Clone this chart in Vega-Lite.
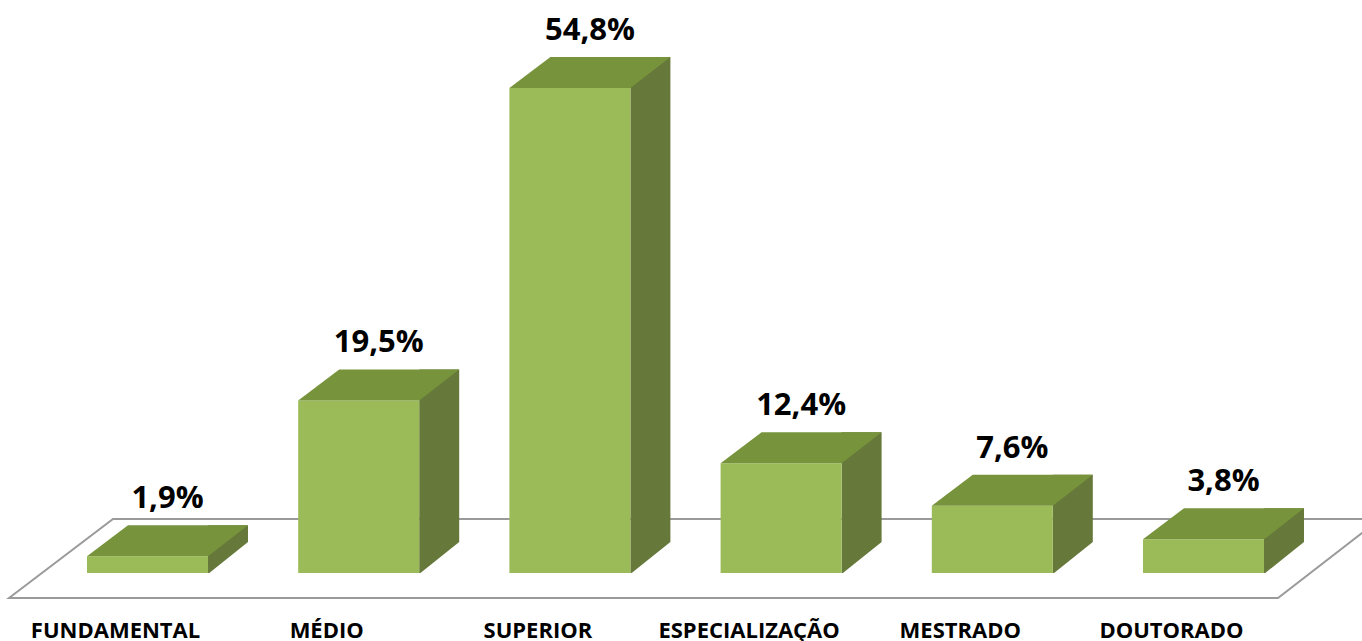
{
  "$schema": "https://vega.github.io/schema/vega-lite/v6.json",
  "width": 1362,
  "height": 610,
  "autosize": {"type": "none"},
  "padding": {"left": 0, "top": 0, "right": 0, "bottom": 31},
  "background": "white",
  "config": {
    "view": {"stroke": null},
    "locale": {"number": {"decimal": ",", "thousands": ".", "grouping": [3], "currency": ["R$ ", ""]}}
  },
  "data": {
    "values": [
      {"nivel": "FUNDAMENTAL", "percentual": 0.019},
      {"nivel": "MÉDIO", "percentual": 0.195},
      {"nivel": "SUPERIOR", "percentual": 0.548},
      {"nivel": "ESPECIALIZAÇÃO", "percentual": 0.124},
      {"nivel": "MESTRADO", "percentual": 0.076},
      {"nivel": "DOUTORADO", "percentual": 0.038}
    ]
  },
  "encoding": {
    "x": {
      "field": "nivel",
      "type": "nominal",
      "sort": null,
      "scale": {
        "domain": ["FUNDAMENTAL", "MÉDIO", "SUPERIOR", "ESPECIALIZAÇÃO", "MESTRADO", "DOUTORADO"],
        "range": [87, 1264],
        "paddingInner": 0.427,
        "paddingOuter": 0
      },
      "axis": {
        "title": null,
        "domain": false,
        "ticks": false,
        "tickSize": 0,
        "grid": false,
        "labelAngle": 0,
        "labelFont": "Open Sans",
        "labelFontWeight": "bold",
        "labelFontSize": 22,
        "labelColor": "#000000",
        "labelOffset": -32,
        "labelPadding": 27,
        "labelBaseline": "alphabetic",
        "labelLimit": 0,
        "labelOverlap": false,
        "labelBound": false
      }
    },
    "y": {
      "field": "percentual",
      "type": "quantitative",
      "scale": {"domain": [0, 0.548], "range": [573, 88], "nice": false, "zero": true},
      "axis": null
    }
  },
  "layer": [
    {
      "transform": [{"filter": "datum.nivel === 'FUNDAMENTAL'"}],
      "mark": {
        "type": "point",
        "shape": "M -1.385 0.25 L -0.345 -0.54 L 12.325 -0.54 L 11.305 0.25 Z",
        "size": 40000,
        "filled": false,
        "fill": "#ffffff",
        "stroke": "#9a9a9a",
        "strokeWidth": 2,
        "opacity": 1,
        "fillOpacity": 1,
        "strokeOpacity": 1,
        "clip": false
      },
      "encoding": {"y": {"datum": 0, "type": "quantitative"}}
    },
    {
      "mark": {"type": "bar", "width": 40, "xOffset": 80.5, "yOffset": -31, "y2Offset": 0, "color": "#66793a"},
      "encoding": {"y2": {"datum": 0}}
    },
    {
      "mark": {
        "type": "point",
        "shape": "M 0.605 0.01 L 1.005 -0.31 L 1.02 -0.31 L 1.02 0.01 Z",
        "size": 40000,
        "filled": true,
        "color": "#ffffff",
        "opacity": 1,
        "strokeWidth": 0
      },
      "encoding": {"y": {"datum": 0, "type": "quantitative"}}
    },
    {
      "mark": {"type": "bar", "color": "#9bbb59"},
      "encoding": {"y2": {"datum": 0}}
    },
    {
      "mark": {
        "type": "point",
        "shape": "M -0.605 0 L 0.605 0 L 1.005 -0.31 L -0.195 -0.31 Z",
        "size": 40000,
        "filled": true,
        "color": "#77933c",
        "opacity": 1,
        "strokeWidth": 0
      }
    },
    {
      "mark": {
        "type": "text",
        "font": "Open Sans",
        "fontWeight": "bold",
        "fontSize": 31,
        "dx": 20,
        "dy": -48,
        "baseline": "alphabetic",
        "align": "center",
        "color": "#000000"
      },
      "encoding": {"text": {"field": "percentual", "type": "quantitative", "format": ".1%"}}
    }
  ]
}
